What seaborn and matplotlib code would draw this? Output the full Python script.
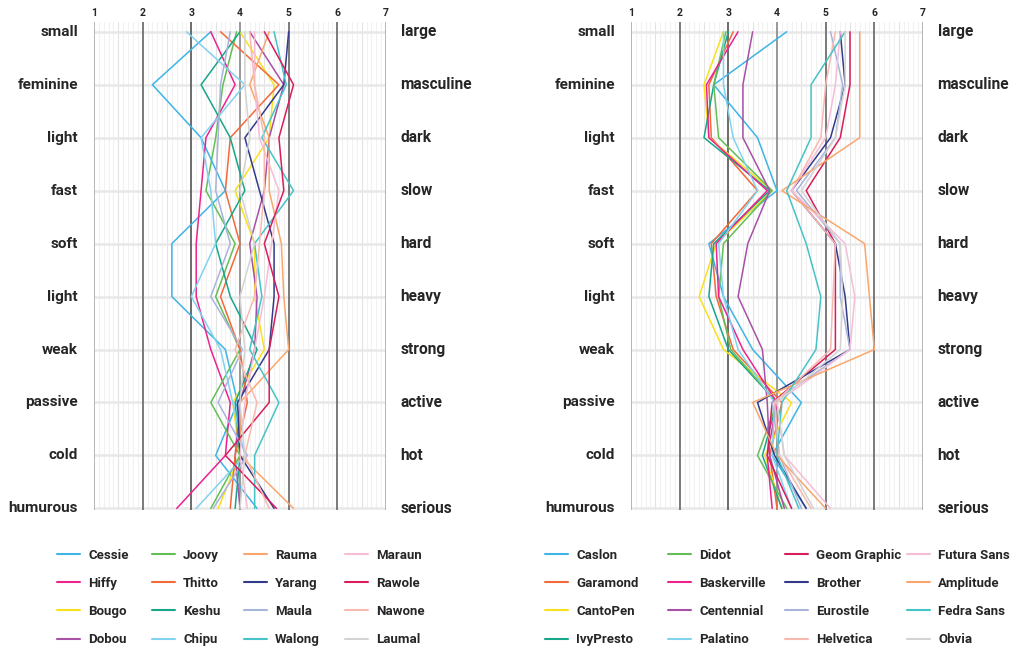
import numpy as np
import pandas as pd
import seaborn as sns
import matplotlib.pyplot as plt
from matplotlib.lines import Line2D

# semantic differential pairs (top to bottom)
left_words = ["small", "feminine", "light", "fast", "soft", "light", "weak", "passive", "cold", "humurous"]
right_words = ["large", "masculine", "dark", "slow", "hard", "heavy", "strong", "active", "hot", "serious"]

# invented words (left chart), values for the 10 rows
cessie = [3.4, 2.2, 3.2, 3.7, 2.6, 2.6, 3.7, 3.95, 3.5, 4.35]
hiffy = [3.4, 3.9, 3.3, 3.2, 3.1, 3.1, 3.4, 3.8, 3.7, 2.7]
bougo = [4.0, 4.7, 4.6, 3.9, 4.3, 4.3, 4.5, 3.85, 4.0, 3.55]
dobou = [4.2, 4.9, 4.6, 4.5, 4.2, 4.35, 4.3, 4.0, 3.9, 4.0]
joovy = [3.93, 3.65, 3.5, 3.3, 3.9, 3.5, 4.0, 3.4, 4.0, 3.4]
thitto = [3.6, 4.8, 3.8, 3.7, 4.0, 3.6, 4.0, 4.15, 3.9, 3.8]
keshu = [4.0, 3.2, 3.8, 4.1, 3.5, 3.8, 4.35, 3.9, 4.0, 3.9]
chipu = [2.9, 4.1, 3.2, 3.4, 3.5, 3.0, 3.6, 3.85, 4.1, 3.1]
rauma = [4.6, 4.2, 4.6, 4.6, 4.85, 4.9, 5.0, 4.0, 4.0, 5.1]
yarang = [5.0, 4.9, 4.1, 4.4, 4.7, 4.7, 4.6, 3.95, 4.0, 4.7]
maula = [3.8, 3.6, 3.55, 3.5, 3.8, 3.4, 4.05, 3.55, 4.15, 3.45]
walong = [4.7, 4.95, 4.45, 5.1, 4.3, 4.45, 4.2, 4.8, 4.3, 4.3]
maraun = [4.3, 4.3, 4.4, 4.8, 4.65, 4.5, 4.3, 4.1, 4.0, 4.15]
rawole = [4.5, 5.1, 4.8, 4.9, 4.5, 4.8, 4.6, 4.6, 3.7, 4.75]
nawone = [4.2, 4.3, 4.5, 4.5, 4.4, 4.3, 3.9, 4.35, 4.1, 4.6]
laumal = [4.1, 4.1, 4.2, 4.0, 4.3, 4.0, 4.1, 4.0, 4.1, 4.0]

# real typefaces (right chart)
caslon = [4.2, 2.7, 3.6, 4.0, 2.6, 2.9, 3.5, 4.5, 3.9, 4.6]
garamond = [3.1, 2.6, 2.65, 3.6, 2.65, 2.75, 3.1, 4.1, 3.85, 4.0]
cantopen = [2.9, 2.5, 2.6, 3.9, 2.75, 2.4, 2.9, 4.3, 3.75, 4.1]
ivypresto = [3.0, 2.7, 2.5, 3.85, 2.7, 2.6, 3.0, 4.0, 3.7, 4.1]
didot = [2.95, 2.7, 2.8, 3.9, 2.9, 2.8, 3.05, 4.0, 3.6, 4.2]
baskerville = [3.2, 2.55, 2.6, 3.8, 2.75, 2.8, 3.3, 4.0, 3.8, 3.9]
centennial = [3.5, 3.3, 3.3, 3.85, 3.4, 3.2, 3.7, 3.8, 3.85, 4.15]
palatino = [2.9, 2.9, 3.1, 3.6, 2.8, 2.9, 3.2, 3.95, 3.9, 4.3]
geom = [5.5, 5.5, 5.3, 4.6, 5.2, 5.2, 5.2, 3.9, 3.8, 4.3]
brother = [5.3, 5.4, 5.1, 4.3, 5.2, 5.4, 5.5, 3.6, 3.95, 4.6]
eurostile = [5.1, 5.35, 5.2, 4.4, 5.3, 5.3, 5.5, 3.9, 4.05, 4.5]
helvetica = [5.2, 5.0, 4.9, 4.3, 5.2, 5.15, 5.1, 3.95, 4.05, 4.7]
futura = [5.3, 5.2, 5.0, 4.3, 5.4, 5.6, 5.5, 4.0, 4.15, 5.1]
amplitude = [5.7, 5.7, 5.7, 4.1, 5.8, 5.9, 6.0, 3.5, 4.0, 5.0]
fedra = [5.4, 4.7, 4.7, 4.2, 4.6, 4.9, 4.8, 4.1, 4.0, 4.45]
obvia = [5.4, 5.4, 5.2, 4.5, 5.3, 5.35, 5.3, 4.0, 4.15, 4.75]

invented = {"Cessie": cessie, "Hiffy": hiffy, "Bougo": bougo, "Dobou": dobou,
            "Joovy": joovy, "Thitto": thitto, "Keshu": keshu, "Chipu": chipu,
            "Rauma": rauma, "Yarang": yarang, "Maula": maula, "Walong": walong,
            "Maraun": maraun, "Rawole": rawole, "Nawone": nawone, "Laumal": laumal}
fonts = {"Caslon": caslon, "Garamond": garamond, "CantoPen": cantopen, "IvyPresto": ivypresto,
         "Didot": didot, "Baskerville": baskerville, "Centennial": centennial, "Palatino": palatino,
         "Geom Graphic": geom, "Brother": brother, "Eurostile": eurostile, "Helvetica": helvetica,
         "Futura Sans": futura, "Amplitude": amplitude, "Fedra Sans": fedra, "Obvia": obvia}

SKY, PINK, YEL, PUR = "#3fb4e5", "#ec238f", "#f8e11c", "#a651a7"
GRN, ORG, TEAL, LBLU = "#63be55", "#f2693a", "#17a689", "#82d2f0"
LORG, NAVY, LAV, CYAN = "#f9a76c", "#343a8b", "#a9b4dc", "#45c3c6"
LPNK, CRIM, SALM, GREY = "#f5bdd8", "#d91c5c", "#f8b9b0", "#d3d3d3"

colors_left = [SKY, PINK, YEL, PUR, GRN, ORG, TEAL, LBLU,
               LORG, NAVY, LAV, CYAN, LPNK, CRIM, SALM, GREY]
colors_right = [SKY, ORG, YEL, TEAL, GRN, PINK, PUR, LBLU,
                CRIM, NAVY, LAV, SALM, LPNK, LORG, CYAN, GREY]

sns.set_style("white")
plt.rcParams['font.family'] = ['Roboto', 'DejaVu Sans']
plt.rcParams['font.weight'] = 'bold'

fig = plt.figure(figsize=(10.26, 6.52), dpi=100)
W, H = 1026, 652


def panel(x0, data, colors, leg_xs):
    ax = fig.add_axes([x0 / W, 1 - 510 / H, 292 / W, (510 - 21.7) / H])
    rows = []
    for name, vals in data.items():
        for i, v in enumerate(vals):
            rows.append({"font": name, "row": i, "value": v})
    df = pd.DataFrame(rows)
    pal = dict(zip(data.keys(), colors))

    # background grid: faint tenths, a bit stronger at halves
    for v in np.arange(1, 7.01, 0.1):
        r = round(v, 1)
        if abs(r - round(r)) < 1e-6:
            continue
        c = "#e3e3e3" if abs(r * 2 - round(r * 2)) < 1e-6 else "#f1f1f1"
        ax.axvline(r, color=c, lw=0.8, zorder=0)
    for i in range(10):
        ax.axhline(i, color="#e8e8e8", lw=1.8, zorder=0.5)
    for v, c in zip(range(1, 8), ["#b0b0b0", "#707070", "#606060", "#909090", "#707070", "#707070", "#b0b0b0"]):
        ax.axvline(v, color=c, lw=1.3, zorder=1)

    sns.lineplot(data=df, x="value", y="row", hue="font", palette=pal, orient="y",
                 estimator=None, sort=True, lw=1.1, ax=ax, legend=False, zorder=3)

    ax.set_xlim(1, 7)
    ax.set_ylim(9.03, -0.19)
    ax.xaxis.tick_top()
    ax.set_xticks(range(1, 8))
    ax.tick_params(axis="x", length=0, pad=3, labelsize=7.5)
    ax.set_yticks([])
    ax.set_xlabel("")
    ax.set_ylabel("")
    for s in ax.spines.values():
        s.set_visible(False)
    for i in range(10):
        ax.text(-0.055, i, left_words[i], transform=ax.get_yaxis_transform(), ha="right",
                va="center", fontsize=11, fontweight="bold")
        ax.text(1.05, i, right_words[i], transform=ax.get_yaxis_transform(), ha="left",
                va="center", fontsize=11.2, fontweight="bold")

    names = list(data.keys())
    for col in range(4):
        hs = [Line2D([], [], color=c, lw=1.5) for c in colors[col * 4:col * 4 + 4]]
        fig.legend(hs, names[col * 4:col * 4 + 4], loc="upper left",
                   bbox_to_anchor=(leg_xs[col] / W, 1 - 549 / H), frameon=False,
                   handlelength=1.75, handletextpad=0.6, borderpad=0, borderaxespad=0,
                   labelspacing=1.14, prop={"weight": "bold", "size": 9.5})


panel(94, invented, colors_left, [57, 152, 244, 345])
panel(631, fonts, colors_right, [545, 668, 785, 907])

fig.savefig("out.png", dpi=100, facecolor="white")
